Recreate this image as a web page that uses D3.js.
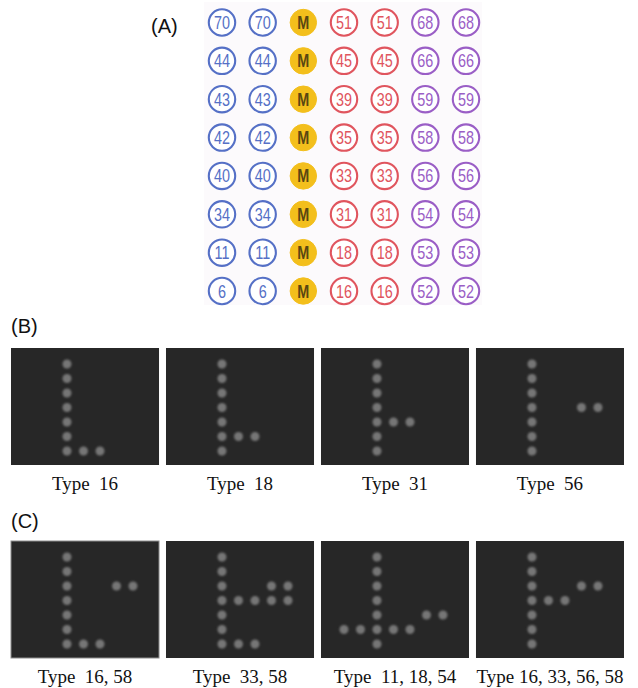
<!DOCTYPE html>
<html>
<head>
<meta charset="utf-8">
<script src="https://cdn.jsdelivr.net/npm/d3@7"></script>
<style>
	body { margin: 0; background: #ffffff; }
	text { white-space: pre; }
</style>
</head>
<body>
<div id="chart"></div>
<script>
// grid of panel (A): one entry per row, columns are blue | blue | M | red | red | purple | purple
const blueNums = [70, 44, 43, 42, 40, 34, 11, 6];
const redNums = [51, 45, 39, 35, 33, 31, 18, 16];
const purpleNums = [68, 66, 59, 58, 56, 54, 53, 52];
const columnKinds = ['blue', 'blue', 'M', 'red', 'red', 'purple', 'purple'];

// panels (B) and (C): lit dots as [column, row] in the same 7 x 8 grid
const spineRows = [2, 3, 4, 5, 6, 7, 8];
const panelLabels = ['Type  16', 'Type  18', 'Type  31', 'Type  56',
	'Type  16, 58', 'Type  33, 58', 'Type  11, 18, 54', 'Type 16, 33, 56, 58'];
const panelDots = [
	[[4, 8], [5, 8]],
	[[4, 7], [5, 7]],
	[[4, 6], [5, 6]],
	[[6, 5], [7, 5]],
	[[4, 8], [5, 8], [6, 4], [7, 4]],
	[[4, 8], [5, 8], [4, 5], [5, 5], [6, 5], [7, 5], [6, 4], [7, 4]],
	[[1, 7], [2, 7], [4, 7], [5, 7], [6, 6], [7, 6]],
	[[4, 5], [5, 5], [6, 4], [7, 4]]
];

const width = 638;
const height = 688;
const colors = {blue: '#5570c6', red: '#e0555e', purple: '#9a5ec6', M: '#f3bf1c'};

const svg = d3.select('#chart')
	.append('svg')
	.attr('width', width)
	.attr('height', height);

svg.append('defs')
	.append('filter')
	.attr('id', 'soft')
	.append('feGaussianBlur')
	.attr('stdDeviation', 0.9);

// ---- (A) ----
const gridX = d3.scalePoint().domain(d3.range(7)).range([222, 466]);
const gridY = d3.scalePoint().domain(d3.range(8)).range([22.5, 291]);

svg.append('rect')
	.attr('x', 204)
	.attr('y', 2)
	.attr('width', 278)
	.attr('height', 303)
	.attr('fill', '#fcfafc');

let cells = [];
for (let r = 0; r < 8; r++) {
	columnKinds.forEach((kind, c) => {
		let label = kind == 'blue' ? blueNums[r] : kind == 'red' ? redNums[r] : kind == 'purple' ? purpleNums[r] : 'M';
		cells.push({r: r, c: c, kind: kind, label: label});
	});
}

var cellGroups = svg.append('g')
	.selectAll('g')
	.data(cells)
	.enter()
	.append('g')
	.attr('transform', d => `translate(${gridX(d.c)},${gridY(d.r)})`);

cellGroups.append('circle')
	.attr('r', 13.2)
	.attr('fill', d => d.kind == 'M' ? colors.M : '#ffffff')
	.attr('stroke', d => colors[d.kind])
	.attr('stroke-width', d => d.kind == 'M' ? 1 : 2.1);

cellGroups.append('text')
	.attr('transform', 'scale(0.8,1)')
	.attr('text-anchor', 'middle')
	.attr('y', 6.5)
	.attr('font-family', 'Liberation Sans, Arial, sans-serif')
	.attr('font-size', 18)
	.attr('font-weight', d => d.kind == 'M' ? 'bold' : 'normal')
	.attr('fill', d => d.kind == 'M' ? '#5a4712' : colors[d.kind])
	.text(d => d.label);

// ---- panel titles ----
const titles = [['(A)', 151, 33], ['(B)', 11, 333], ['(C)', 11, 528]];
svg.selectAll('text.title')
	.data(titles)
	.enter()
	.append('text')
	.attr('class', 'title')
	.attr('x', d => d[1])
	.attr('y', d => d[2])
	.attr('font-family', 'Liberation Sans, Arial, sans-serif')
	.attr('font-size', 20)
	.attr('fill', '#111111')
	.text(d => d[0]);

// ---- (B) and (C) ----
const panelX = d3.scaleBand().domain(d3.range(4)).range([11, 624]).paddingInner(0.045);
const rowTop = [348, 541];
const panelH = 117;
const dotX = d3.scaleLinear().domain([1, 7]).range([23, 122]);
const dotY = d3.scaleLinear().domain([2, 8]).range([16, 103]);

var panels = svg.append('g')
	.selectAll('g')
	.data(panelLabels.map((label, i) => ({label: label, dots: panelDots[i], i: i})))
	.enter()
	.append('g')
	.attr('transform', d => `translate(${panelX(d.i % 4)},${rowTop[Math.floor(d.i / 4)]})`);

panels.append('rect')
	.attr('width', panelX.bandwidth())
	.attr('height', panelH)
	.attr('fill', '#272727')
	.attr('stroke', d => d.i == 4 ? '#8e8e8e' : 'none')
	.attr('stroke-width', 1);

panels.append('g')
	.attr('filter', 'url(#soft)')
	.selectAll('circle')
	.data(d => spineRows.map(r => [3, r]).concat(d.dots))
	.enter()
	.append('circle')
	.attr('cx', d => dotX(d[0]))
	.attr('cy', d => dotY(d[1]))
	.attr('r', 4.5)
	.attr('fill', '#767676');

panels.append('text')
	.attr('x', panelX.bandwidth() / 2)
	.attr('y', panelH + 25)
	.attr('text-anchor', 'middle')
	.attr('font-family', 'Liberation Serif, Times New Roman, serif')
	.attr('font-size', 19)
	.attr('fill', '#111111')
	.text(d => d.label);
</script>
</body>
</html>
